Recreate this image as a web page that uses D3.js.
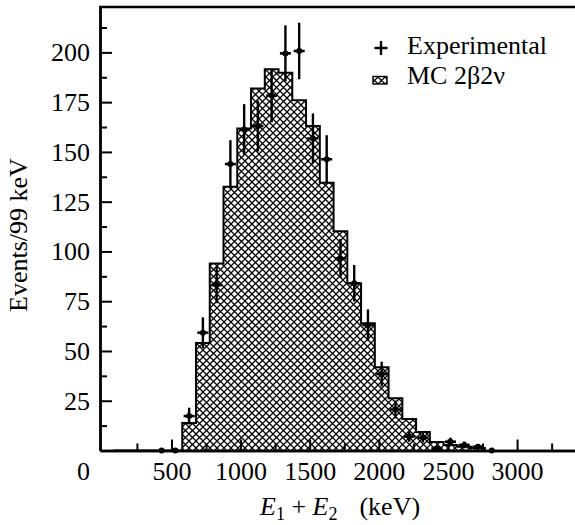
<!DOCTYPE html>
<html><head><meta charset="utf-8">
<script src="https://cdn.jsdelivr.net/npm/d3@7"></script>
<style>
body{margin:0;background:#fff}
svg{display:block}
text{font-family:"Liberation Serif","Times New Roman",serif;fill:#000}
</style>
</head><body>
<svg id="c" width="575" height="525"></svg>
<script>
// ---- data ----
const binStart = 80.5;      // keV, lower edge of first bin
const binWidth = 99.5;      // keV
// MC 2β2ν histogram (events per bin)
const mcCounts = [0,0,0,0,0,
  13.8,54.0,94.0,132.5,161.8,181.9,191.5,189.8,176.0,163.0,134.5,
  110.2,84.0,63.9,41.8,26.2,15.8,9.3,4.3,2.8,1.9,1.3];
// Experimental points (null = no point in that bin)
const expCounts = [null,null,null,0,0,
  17.3,59.2,83.1,143.9,161.3,163.0,178.3,199.5,200.7,156.8,146.3,
  96.5,84.0,63.0,38.4,20.6,7.0,6.5,1.0,4.4,2.8,1.9,0];
const expErrors = [null,null,null,0,0,
  4.2,7.7,9.1,12.0,12.7,12.8,13.4,14.1,14.2,12.5,12.1,
  9.8,9.2,7.9,6.2,4.5,2.6,2.5,1.0,2.1,1.7,1.4,0];
const xTickLabels = [500,1000,1500,2000,2500,3000];
const xMinorTicks = [250,750,1250,1750,2250,2750,3250];
const yTickLabels = [25,50,75,100,125,150,175,200];
const yMinorTicks = [12.5,37.5,62.5,87.5,112.5,137.5,162.5,187.5,212.5];
const legendLabels = ["Experimental","MC 2β2ν"];

// ---- layout ----
const svg = d3.select("#c");
const L = 100, R = 575, T = 7, B = 450.5;
const x = d3.scaleLinear().domain([-17, 3419]).range([L, R]);
const y = d3.scaleLinear().domain([0, 222.8]).range([B, T]);
const FS = 26;

// hatch pattern
const defs = svg.append("defs");
const P = 7;
const pat = defs.append("pattern").attr("id","hatch").attr("patternUnits","userSpaceOnUse")
  .attr("width",P).attr("height",P);
pat.append("path").attr("d",`M-1,-1 L${P+1},${P+1} M-1,${P+1} L${P+1},-1`)
  .attr("stroke","#000").attr("stroke-width",1.25).attr("fill","none");

// histogram
const mcPts = mcCounts.map((v,i)=>({e: binStart + i*binWidth, v}));
const mcEnd = binStart + mcCounts.length*binWidth;
const areaPts = mcPts.concat([{e: mcEnd, v: mcCounts[mcCounts.length-1]}]);
svg.append("path")
  .attr("d", d3.area().curve(d3.curveStepAfter).x(d=>x(d.e)).y0(y(0)).y1(d=>y(d.v))(areaPts))
  .attr("fill","url(#hatch)");
svg.append("path")
  .attr("d", d3.line().curve(d3.curveStepAfter).x(d=>x(d.e)).y(d=>y(d.v))(areaPts.concat([{e:mcEnd, v:0}])))
  .attr("fill","none").attr("stroke","#000").attr("stroke-width",2);

// axes
const gy = svg.append("g").attr("transform",`translate(${L},0)`)
  .call(d3.axisLeft(y).tickValues(yTickLabels).tickSize(-12).tickSizeOuter(0).tickPadding(10));
const gy2 = svg.append("g").attr("transform",`translate(${L},0)`)
  .call(d3.axisLeft(y).tickValues(yMinorTicks).tickSize(-7).tickSizeOuter(0).tickFormat(""));
const gx = svg.append("g").attr("transform",`translate(0,${B})`)
  .call(d3.axisBottom(x).tickValues(xTickLabels).tickFormat(d3.format("d")).tickSize(-11).tickSizeOuter(0).tickPadding(11));
const gx2 = svg.append("g").attr("transform",`translate(0,${B})`)
  .call(d3.axisBottom(x).tickValues(xMinorTicks).tickSize(-7).tickSizeOuter(0).tickFormat(""));
[gy,gy2,gx,gx2].forEach(g=>{
  g.selectAll("path.domain").attr("stroke","#000").attr("stroke-width",2.4);
  g.selectAll(".tick line").attr("stroke","#000").attr("stroke-width",2);
  g.selectAll("text").attr("font-family",'"Liberation Serif",serif').attr("font-size",FS).attr("fill","#000");
});
// top border
svg.append("line").attr("x1",L-1).attr("x2",R).attr("y1",T).attr("y2",T)
  .attr("stroke","#000").attr("stroke-width",2.6);
// corner "0" label
svg.append("text").attr("x",90).attr("y",480).attr("text-anchor","end").attr("font-size",FS).text("0");

// experimental points
const expPts = expCounts.map((v,i)=>({e: binStart + (i+0.5)*binWidth, v, err: expErrors[i]}))
  .filter(d=>d.v!==null);
const ge = svg.append("g");
expPts.forEach(d=>{
  const cx = x(d.e), cy = y(d.v);
  if (d.err > 0) {
    ge.append("line").attr("x1",cx).attr("x2",cx).attr("y1",y(d.v+d.err)).attr("y2",y(Math.max(0,d.v-d.err)))
      .attr("stroke","#000").attr("stroke-width",2.4);
    ge.append("line").attr("x1",x(d.e-0.4*binWidth)).attr("x2",x(d.e+0.4*binWidth)).attr("y1",cy).attr("y2",cy)
      .attr("stroke","#000").attr("stroke-width",2.6);
  }
  ge.append("circle").attr("cx",cx).attr("cy",cy).attr("r",3).attr("fill","#000");
});

// legend
const lg = svg.append("g");
lg.append("line").attr("x1",374.5).attr("x2",387.5).attr("y1",48).attr("y2",48).attr("stroke","#000").attr("stroke-width",2.4);
lg.append("line").attr("x1",381).attr("x2",381).attr("y1",41).attr("y2",55).attr("stroke","#000").attr("stroke-width",2.4);
lg.append("text").attr("x",407).attr("y",54).attr("font-size",FS).text(legendLabels[0]);
lg.append("rect").attr("x",373).attr("y",76.5).attr("width",14).attr("height",7.5)
  .attr("fill","url(#hatch)").attr("stroke","#000").attr("stroke-width",1.4);
lg.append("text").attr("x",407).attr("y",84).attr("font-size",FS).text(legendLabels[1]);

// axis titles
svg.append("text").attr("transform","translate(27,235) rotate(-90)").attr("text-anchor","middle")
  .attr("font-size",FS).text("Events/99 keV");
const xt = svg.append("text").attr("x",260).attr("y",515).attr("font-size",FS);
xt.append("tspan").attr("font-style","italic").text("E");
xt.append("tspan").attr("font-size",18).attr("dy",5).text("1");
xt.append("tspan").attr("dy",-5).text(" + ");
xt.append("tspan").attr("font-style","italic").text("E");
xt.append("tspan").attr("font-size",18).attr("dy",5).text("2");
xt.append("tspan").attr("dy",-5).attr("dx",22).text("(keV)");
</script>
</body></html>
